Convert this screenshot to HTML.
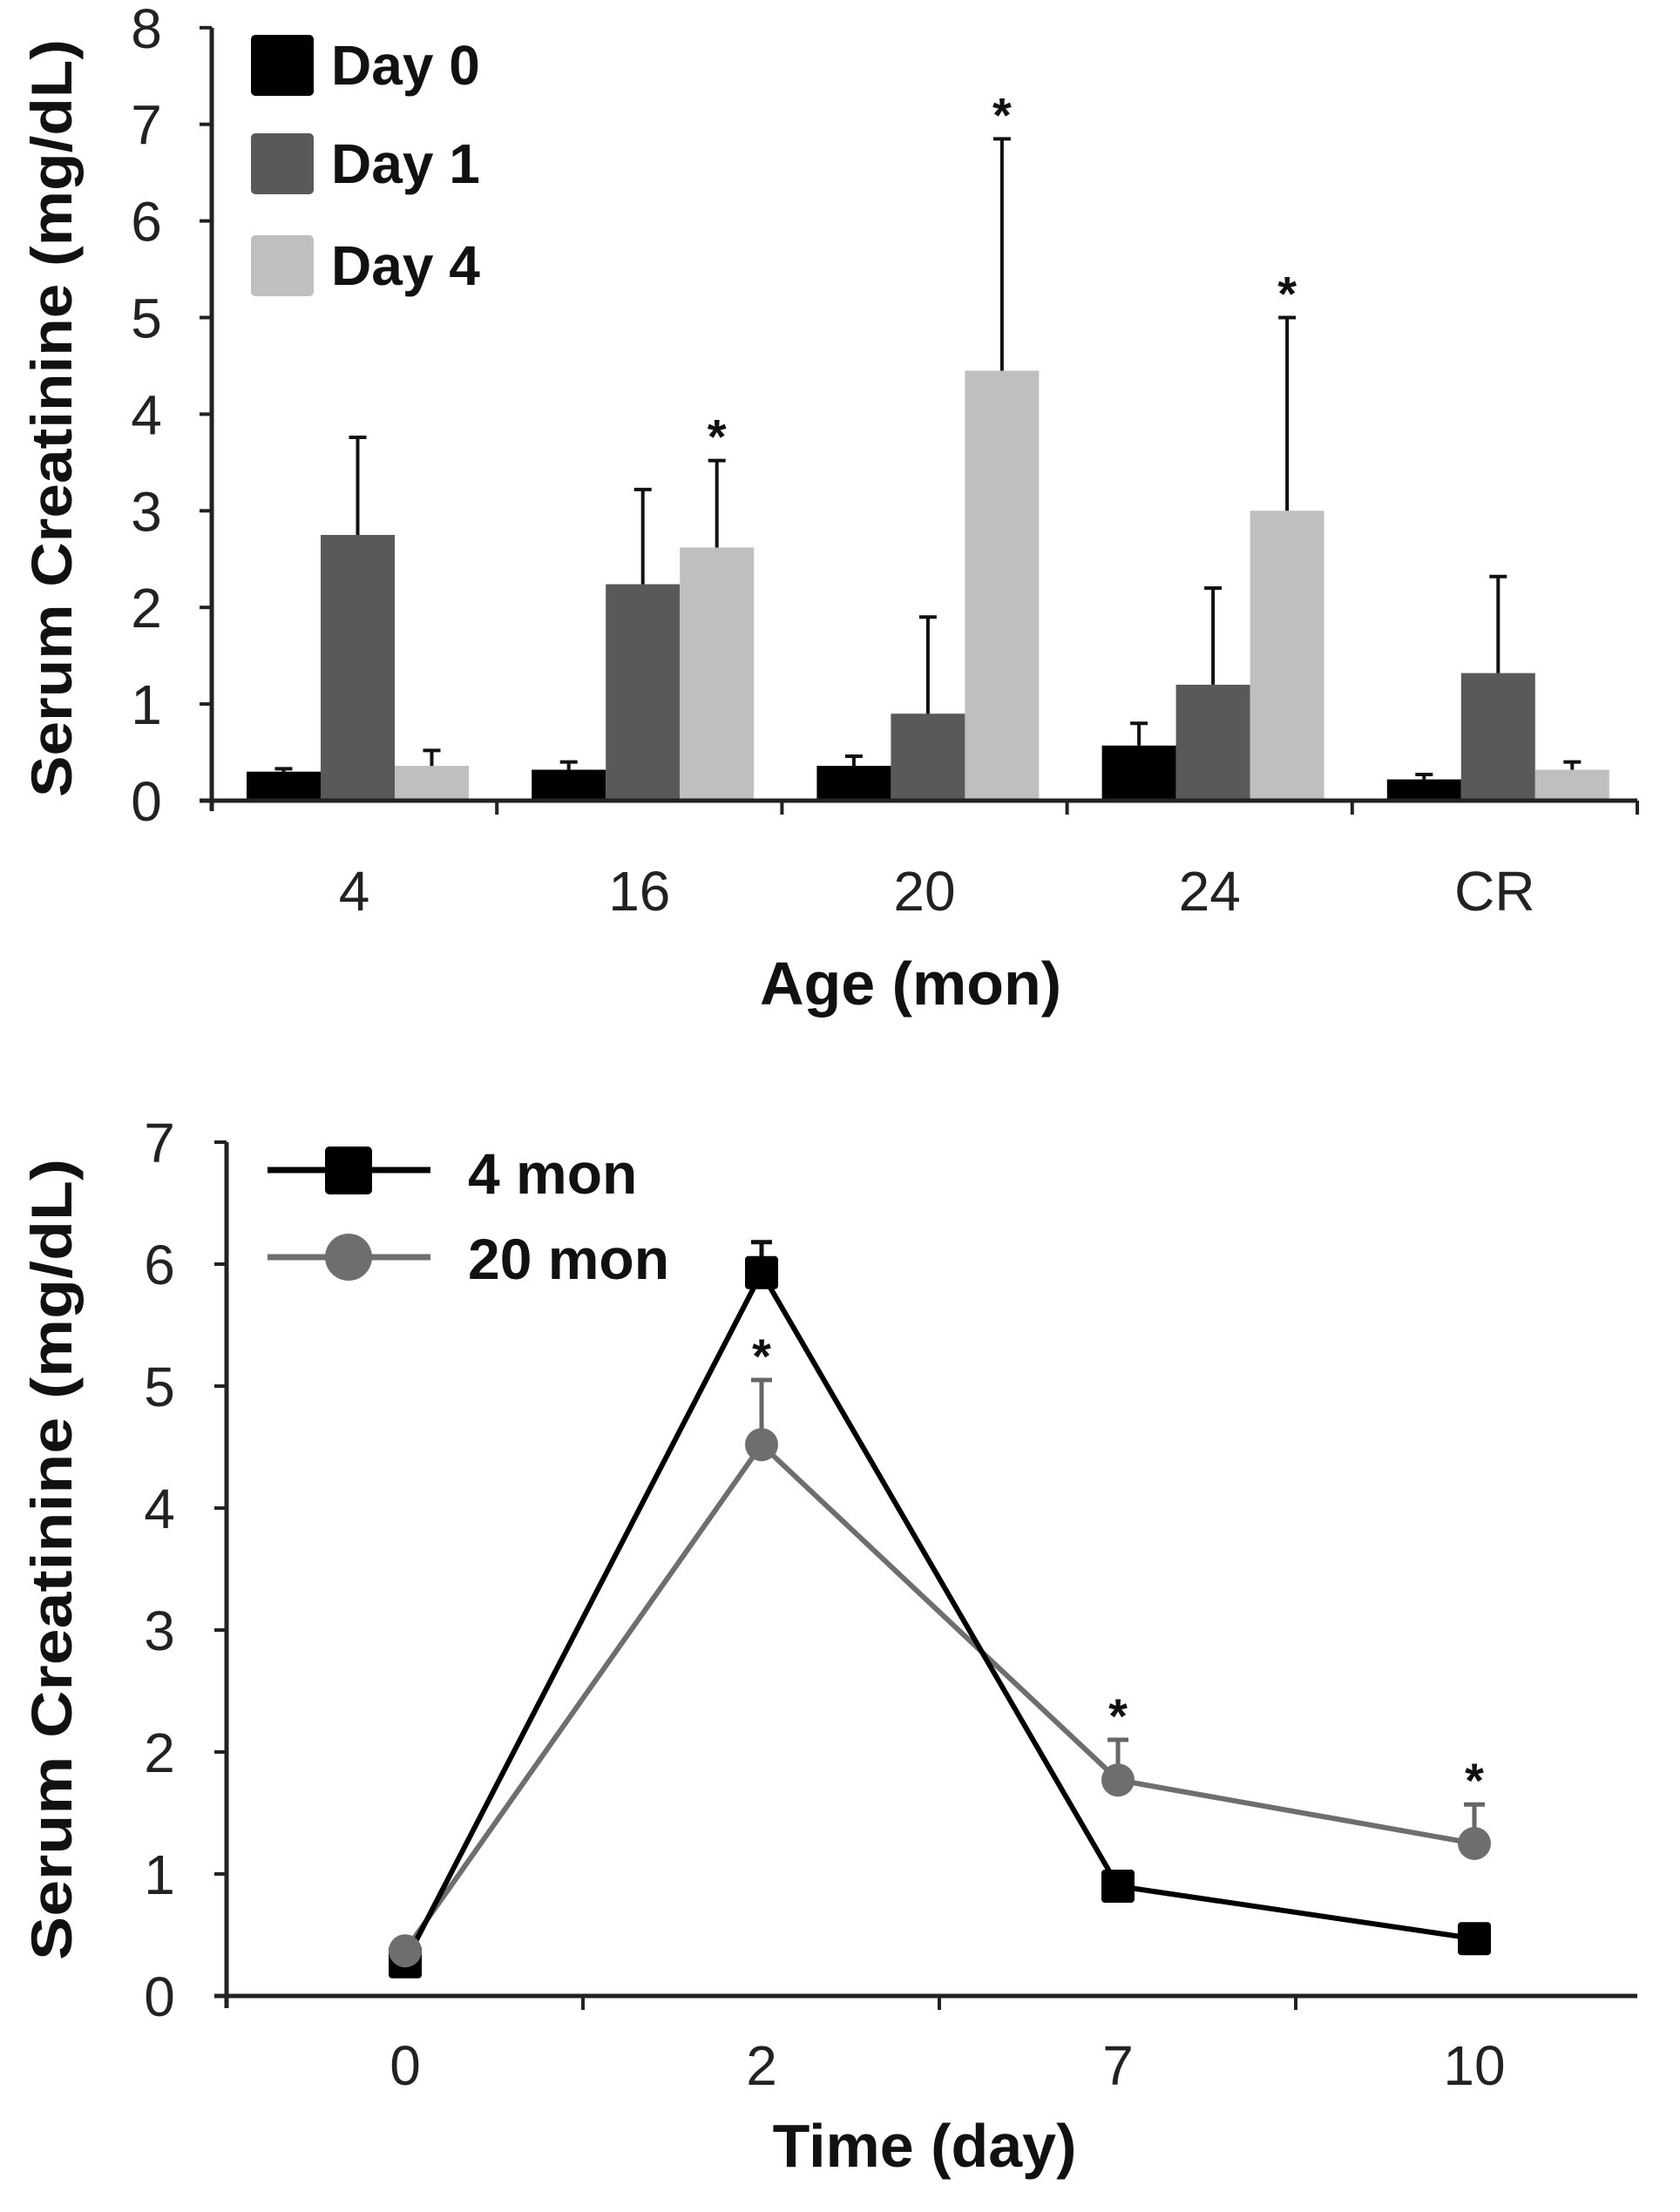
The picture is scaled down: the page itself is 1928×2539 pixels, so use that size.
<!DOCTYPE html>
<html><head><meta charset="utf-8"><style>
html,body{margin:0;padding:0;background:#fff;}
svg{display:block;font-family:"Liberation Sans",sans-serif;}
</style></head><body>
<svg id="fig" width="1928" height="2539" viewBox="0 0 1928 2539"></svg>
<script>
// ---- Top chart data ----
const barCategories = ["4","16","20","24","CR"];
const seriesNames = ["Day 0","Day 1","Day 4"];
const day0Values = [0.30,0.32,0.36,0.57,0.22];
const day0Err = [0.33,0.40,0.46,0.80,0.27];
const day1Values = [2.75,2.24,0.90,1.20,1.32];
const day1Err = [3.76,3.22,1.90,2.20,2.32];
const day4Values = [0.36,2.62,4.45,3.00,0.32];
const day4Err = [0.52,3.52,6.85,5.00,0.40];
const day4Star = [false,true,true,true,false];
const topTicks = [0,1,2,3,4,5,6,7,8];
// ---- Bottom chart data ----
const lineCategories = ["0","2","7","10"];
const mon4Values = [0.28,5.93,0.90,0.47];
const mon4Err = [0.28,6.18,0.90,0.47];
const mon20Values = [0.37,4.52,1.77,1.25];
const mon20Err = [0.37,5.05,2.10,1.57];
const mon20Star = [false,true,true,true];
const bottomTicks = [0,1,2,3,4,5,6,7];

const NS="http://www.w3.org/2000/svg";
const svg=document.getElementById('fig');
function mk(tag,attrs,parent,txt){const e=document.createElementNS(NS,tag);for(const k in attrs)e.setAttribute(k,attrs[k]);if(txt!==undefined)e.textContent=txt;(parent||svg).appendChild(e);return e;}

// ===== TOP CHART =====
const T={x0:243,x1:1879,y0:919,unit:110.9};
const ty=v=>T.y0-v*T.unit;
const groupW=(T.x1-T.x0)/barCategories.length;
const tx=i=>T.x0+i*groupW;
const gTop=mk('g',{});


const colors=["#000000","#595959","#bfbfbf"];
const vals=[day0Values,day1Values,day4Values];
const errs=[day0Err,day1Err,day4Err];
const barW=85, barOff=40;
barCategories.forEach((c,i)=>{
  vals.forEach((arr,s)=>{
    const x=tx(i)+barOff+s*barW;
    const r=mk('rect',{x:x,y:ty(arr[i]),width:barW,height:ty(0)-ty(arr[i]),fill:colors[s]},gTop);
    
    
    const cx=x+barW/2;
    const eb=mk('path',{d:`M${cx} ${ty(arr[i])}V${ty(errs[s][i])}M${cx-10} ${ty(errs[s][i])}H${cx+10}`,stroke:"#111","stroke-width":4,fill:"none"},gTop);
    
    
    if(s===2&&day4Star[i]){
      const st=mk('text',{x:cx,y:ty(errs[s][i])-8,"text-anchor":"middle","font-size":56,"font-weight":"bold",fill:"#111"},gTop,"*");
      
      
    }
  });
  const lb=mk('text',{x:tx(i)+groupW/2,y:1045,"text-anchor":"middle","font-size":64,fill:"#222"},gTop,c);
  
  
});
// axes
const ax=mk('path',{d:`M${T.x0} ${ty(8)}V${T.y0+12}M${T.x0-14} ${T.y0}H${T.x1}`,stroke:"#222","stroke-width":5,fill:"none"},gTop);


for(let i=1;i<=barCategories.length;i++){mk('line',{x1:tx(i),x2:tx(i),y1:T.y0,y2:T.y0+16,stroke:"#222","stroke-width":4},gTop);}
topTicks.forEach(t=>{
  mk('line',{x1:T.x0-14,x2:T.x0,y1:ty(t),y2:ty(t),stroke:"#222","stroke-width":4},gTop);
  const l=mk('text',{x:168,y:ty(t)+23,"text-anchor":"middle","font-size":64,fill:"#222"},gTop,String(t));
  
  
});
const yt1=mk('text',{x:0,y:0,transform:"translate(82,480) rotate(-90)","text-anchor":"middle","font-size":66,"font-weight":"bold",fill:"#111",textLength:870,lengthAdjust:"spacingAndGlyphs"},gTop,"Serum Creatinine (mg/dL)");


const xt1=mk('text',{x:1045,y:1153,"text-anchor":"middle","font-size":70,"font-weight":"bold",fill:"#111"},gTop,"Age (mon)");


// legend
const legY=[40,153,270];
seriesNames.forEach((n,s)=>{
  const r=mk('rect',{x:288,y:legY[s],width:72,height:70,rx:5,fill:colors[s]},gTop);
  
  
  const t=mk('text',{x:380,y:legY[s]+57,"font-size":64,"font-weight":"bold",fill:"#111"},gTop,n);
  
  
});

// ===== BOTTOM CHART =====
const B={x0:260,x1:1879,y0:2291,unit:140};
const by=v=>B.y0-v*B.unit;
const stepX=409;
const bx=i=>465+i*stepX;
const gBot=mk('g',{});


const bax=mk('path',{d:`M${B.x0} ${by(7)}V${B.y0+14}M${B.x0-14} ${B.y0}H${B.x1}`,stroke:"#222","stroke-width":5,fill:"none"},gBot);


for(let i=1;i<=4;i++){const x=B.x0+i*stepX;if(x<=B.x1)mk('line',{x1:x,x2:x,y1:B.y0,y2:B.y0+16,stroke:"#222","stroke-width":4},gBot);}
bottomTicks.forEach(t=>{
  mk('line',{x1:B.x0-14,x2:B.x0,y1:by(t),y2:by(t),stroke:"#222","stroke-width":4},gBot);
  const l=mk('text',{x:183,y:by(t)+23,"text-anchor":"middle","font-size":64,fill:"#222"},gBot,String(t));
  
  
});
lineCategories.forEach((c,i)=>{
  const l=mk('text',{x:bx(i),y:2393,"text-anchor":"middle","font-size":64,fill:"#222"},gBot,c);
  
  
});
// error bars
function ebar(vs,es,col,g){vs.forEach((v,i)=>{if(es[i]>v+0.01){const x=bx(i);const p=mk('path',{d:`M${x} ${by(v)}V${by(es[i])}M${x-12} ${by(es[i])}H${x+12}`,stroke:col,"stroke-width":5,fill:"none"},g);}});}
ebar(mon4Values,mon4Err,"#111",gBot);
ebar(mon20Values,mon20Err,"#666",gBot);
const l20=mk('polyline',{points:mon20Values.map((v,i)=>bx(i)+','+by(v)).join(' '),stroke:"#6e6e6e","stroke-width":6,fill:"none"},gBot);


const l4=mk('polyline',{points:mon4Values.map((v,i)=>bx(i)+','+by(v)).join(' '),stroke:"#000","stroke-width":6,fill:"none"},gBot);


mon4Values.forEach((v,i)=>{const r=mk('rect',{x:bx(i)-19,y:by(v)-19,width:38,height:38,rx:4,fill:"#000"},gBot);});
mon20Values.forEach((v,i)=>{const c=mk('circle',{cx:bx(i),cy:by(v),r:19,fill:"#6e6e6e"},gBot);
  if(mon20Star[i]){const st=mk('text',{x:bx(i),y:by(mon20Err[i])-8,"text-anchor":"middle","font-size":56,"font-weight":"bold",fill:"#111"},gBot,"*");}
});
const yt2=mk('text',{x:0,y:0,transform:"translate(82,1790) rotate(-90)","text-anchor":"middle","font-size":66,"font-weight":"bold",fill:"#111",textLength:920,lengthAdjust:"spacingAndGlyphs"},gBot,"Serum Creatinine (mg/dL)");


const xt2=mk('text',{x:1061,y:2487,"text-anchor":"middle","font-size":70,"font-weight":"bold",fill:"#111"},gBot,"Time (day)");


// legend
const lg1=mk('g',{},gBot);


mk('line',{x1:307,x2:494,y1:1343,y2:1343,stroke:"#000","stroke-width":7},lg1);
mk('rect',{x:373,y:1316,width:54,height:55,rx:5,fill:"#000"},lg1);
mk('text',{x:537,y:1370,"font-size":66,"font-weight":"bold",fill:"#111"},lg1,"4 mon");
const lg2=mk('g',{},gBot);


mk('line',{x1:307,x2:494,y1:1443,y2:1443,stroke:"#6e6e6e","stroke-width":7},lg2);
mk('circle',{cx:400,cy:1443,r:27,fill:"#6e6e6e"},lg2);
mk('text',{x:537,y:1468,"font-size":66,"font-weight":"bold",fill:"#111"},lg2,"20 mon");
</script>
</body></html>
